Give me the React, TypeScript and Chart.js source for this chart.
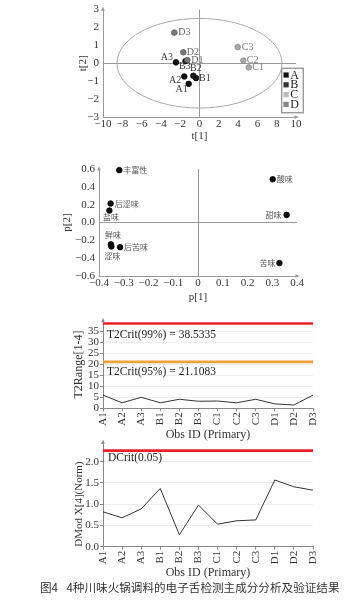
import React, { useEffect, useRef } from 'react';
import { Chart, registerables } from 'chart.js';

Chart.register(...registerables);

const SERIF = '"Liberation Serif", "DejaVu Serif", serif';
const CJK = '"Noto Sans CJK SC", sans-serif';
Chart.defaults.font.family = SERIF;

// ---------- Score plot (t[1] vs t[2]) ----------
const NAMES_A = ['A1', 'A2', 'A3'];
const T1_A = [-1.12, -1.58, -2.44];
const T2_A = [-1.15, -0.74, 0.05];
const NAMES_B = ['B1', 'B2', 'B3'];
const T1_B = [-0.36, -0.64, -1.45];
const T2_B = [-0.83, -0.7, 0.12];
const NAMES_C = ['C1', 'C2', 'C3'];
const T1_C = [5.1, 4.54, 3.96];
const T2_C = [-0.23, 0.15, 0.9];
const NAMES_D = ['D1', 'D2', 'D3'];
const T1_D = [-1.26, -1.68, -2.61];
const T2_D = [0.18, 0.61, 1.71];
const ELLIPSE_T1 = 8.55;
const ELLIPSE_T2 = 2.5;
const GROUPS = ['A', 'B', 'C', 'D'];

// ---------- Loading plot (p[1] vs p[2]) ----------
const TASTES = ['丰富性', '后涩味', '盐味', '鲜味', '涩味', '后苦味', '酸味', '甜味', '苦味'];
const P1 = [-0.318, -0.353, -0.358, -0.352, -0.35, -0.315, 0.302, 0.358, 0.329];
const P2 = [0.587, 0.213, 0.134, -0.245, -0.268, -0.277, 0.485, 0.085, -0.455];

// ---------- Validation plots ----------
const OBS_IDS = ['A1', 'A2', 'A3', 'B1', 'B2', 'B3', 'C1', 'C2', 'C3', 'D1', 'D2', 'D3'];
const T2_RANGE = [6.0, 2.5, 5.0, 2.5, 4.1, 3.2, 3.3, 2.5, 4.1, 2.0, 1.5, 6.0];
const T2CRIT_99 = 38.5335;
const T2CRIT_95 = 21.1083;
const DMOD = [0.82, 0.68, 0.89, 1.37, 0.28, 0.98, 0.53, 0.61, 0.63, 1.57, 1.41, 1.33];
const DCRIT = 2.26;

const CAPTION = '图4\u2002 4种川味火锅调料的电子舌检测主成分分析及验证结果';

// ---------- styles ----------
const GROUP_FILL: Record<string, string> = { A: '#0e0e0e', B: '#1c1c1c', C: '#a9a9a9', D: '#7b7b7b' };
const GROUP_BORDER: Record<string, string> = { A: '#000', B: '#000', C: '#8a8a8a', D: '#555' };
const GROUP_LABEL: Record<string, string> = { A: '#3a3a3a', B: '#3a3a3a', C: '#808080', D: '#666' };
const LEGEND_FILL: Record<string, string> = { A: '#111', B: '#333', C: '#bbb', D: '#858585' };

type Pos = { dx: number; dy: number; align: CanvasTextAlign };
const SCORE_POS: Record<string, Pos> = {
  D3: { dx: 4, dy: 0, align: 'left' },
  D2: { dx: 3.5, dy: 0, align: 'left' },
  D1: { dx: 4, dy: 0, align: 'left' },
  A3: { dx: -3, dy: -5, align: 'right' },
  B3: { dx: -6.5, dy: 5.5, align: 'left' },
  B2: { dx: -3.3, dy: -7.3, align: 'left' },
  B1: { dx: 3, dy: 0, align: 'left' },
  A2: { dx: -3, dy: 4.3, align: 'right' },
  A1: { dx: -1, dy: 6, align: 'right' },
  C3: { dx: 4, dy: 0, align: 'left' },
  C2: { dx: 3.5, dy: 0, align: 'left' },
  C1: { dx: 3.5, dy: 0, align: 'left' },
};
const TASTE_POS: Record<string, Pos> = {
  丰富性: { dx: 4, dy: 0, align: 'left' },
  后涩味: { dx: 4, dy: 0, align: 'left' },
  盐味: { dx: 1.5, dy: 6.5, align: 'center' },
  鲜味: { dx: 2, dy: -9, align: 'center' },
  涩味: { dx: 1, dy: 9.5, align: 'center' },
  后苦味: { dx: 4, dy: 0, align: 'left' },
  酸味: { dx: 4, dy: 0, align: 'left' },
  甜味: { dx: -5, dy: 0, align: 'right' },
  苦味: { dx: -4, dy: 0, align: 'right' },
};

const AXIS = '#999';
const TICK = '#333';

const minus = (s: string) => s.replace('-', '\u2212');
const zeroOnly = (c: any) => (c.tick && Math.abs(c.tick.value) < 1e-9 ? AXIS : 'rgba(0,0,0,0)');

// ---------- plugins ----------
const labelPlugin = {
  id: 'pointNames',
  afterDatasetsDraw(chart: any, _a: any, o: any) {
    const ctx = chart.ctx;
    ctx.save();
    chart.data.datasets.forEach((ds: any, i: number) => {
      const names = ds.pointNames;
      if (!names) return;
      const meta = chart.getDatasetMeta(i);
      meta.data.forEach((el: any, j: number) => {
        const n = names[j];
        const p: Pos = o.positions[n] || { dx: 4, dy: 0, align: 'left' };
        ctx.font = o.font;
        ctx.fillStyle = ds.labelColor || o.color;
        ctx.textAlign = p.align;
        ctx.textBaseline = 'middle';
        ctx.fillText(n, el.x + p.dx, el.y + p.dy);
      });
    });
    ctx.restore();
  },
};

const ellipsePlugin = {
  id: 'ellipse',
  beforeDatasetsDraw(chart: any, _a: any, o: any) {
    if (!o || !o.rx) return;
    const { x, y } = chart.scales;
    const cx = x.getPixelForValue(0);
    const cy = y.getPixelForValue(0);
    const rx = x.getPixelForValue(o.rx) - cx;
    const ry = cy - y.getPixelForValue(o.ry);
    const ctx = chart.ctx;
    ctx.save();
    ctx.strokeStyle = o.color;
    ctx.lineWidth = 1;
    ctx.beginPath();
    ctx.ellipse(cx, cy, rx, ry, 0, 0, Math.PI * 2);
    ctx.stroke();
    ctx.restore();
  },
};

const arrowPlugin = {
  id: 'axisArrows',
  afterDraw(chart: any, _a: any, o: any) {
    const { left, right, top, bottom } = chart.chartArea;
    const ctx = chart.ctx;
    ctx.save();
    ctx.fillStyle = o.color || AXIS;
    if (o.top) {
      ctx.beginPath();
      ctx.moveTo(left, top - 3);
      ctx.lineTo(left - 1.8, top + 1.5);
      ctx.lineTo(left + 1.8, top + 1.5);
      ctx.closePath();
      ctx.fill();
    }
    if (o.right) {
      ctx.beginPath();
      ctx.moveTo(right + 3, bottom);
      ctx.lineTo(right - 1.5, bottom - 1.8);
      ctx.lineTo(right - 1.5, bottom + 1.8);
      ctx.closePath();
      ctx.fill();
    }
    ctx.restore();
  },
};

const boxLegendPlugin = {
  id: 'boxLegend',
  afterDraw(chart: any, _a: any, o: any) {
    if (!o || !o.items) return;
    const { right, bottom } = chart.chartArea;
    const x0 = right + o.dx;
    const y0 = bottom + o.dy;
    const ctx = chart.ctx;
    ctx.save();
    ctx.strokeStyle = '#999';
    ctx.lineWidth = 1.4;
    ctx.strokeRect(x0, y0, o.w, o.h);
    o.items.forEach((it: string, i: number) => {
      const cy = y0 + o.first + i * o.step;
      ctx.fillStyle = LEGEND_FILL[it];
      ctx.fillRect(x0 + 1.8, cy - 2.6, 5.2, 5.2);
      ctx.fillStyle = '#222';
      ctx.font = '12px ' + SERIF;
      ctx.textAlign = 'left';
      ctx.textBaseline = 'middle';
      ctx.fillText(it, x0 + 8.6, cy + 0.5);
    });
    ctx.restore();
  },
};

const critTextPlugin = {
  id: 'critText',
  afterDatasetsDraw(chart: any, _a: any, o: any) {
    if (!o || !o.items) return;
    const y = chart.scales.y;
    const ctx = chart.ctx;
    ctx.save();
    ctx.fillStyle = '#222';
    ctx.font = o.font;
    ctx.textAlign = 'left';
    ctx.textBaseline = 'middle';
    o.items.forEach((it: any) => {
      ctx.fillText(it.text, chart.chartArea.left + it.dx, y.getPixelForValue(it.value) + it.dy);
    });
    ctx.restore();
  },
};

const pts = (xs: number[], ys: number[]) => xs.map((x, i) => ({ x, y: ys[i] }));

const groupDataset = (g: string, xs: number[], ys: number[], names: string[], order: number) => ({
  label: g,
  data: pts(xs, ys),
  pointNames: names,
  labelColor: GROUP_LABEL[g],
  backgroundColor: GROUP_FILL[g],
  borderColor: GROUP_BORDER[g],
  pointRadius: 2.8,
  borderWidth: 0.8,
  clip: false,
  order,
});

const titleFont = (size: number) => ({ size, family: SERIF });
const flatTicks = { autoSkip: false, maxRotation: 0, minRotation: 0 };

function scoreConfig(): any {
  return {
    type: 'scatter',
    data: {
      datasets: [
        groupDataset('D', T1_D, T2_D, NAMES_D, 0),
        groupDataset('C', T1_C, T2_C, NAMES_C, 1),
        groupDataset('B', T1_B, T2_B, NAMES_B, 2),
        groupDataset('A', T1_A, T2_A, NAMES_A, 3),
      ],
    },
    options: {
      animation: false,
      responsive: false,
      events: [],
      layout: { padding: { left: 0, right: 58, top: 6, bottom: 0 } },
      scales: {
        x: {
          type: 'linear', min: -10, max: 10,
          ticks: { ...flatTicks, stepSize: 2, color: TICK, font: { size: 11, lineHeight: 1 }, padding: 2,
            callback: (v: number) => minus(String(v)) },
          grid: { color: zeroOnly, drawTicks: false },
          border: { color: AXIS },
          title: { display: true, text: 't[1]', color: TICK, font: titleFont(11), padding: { top: 0, bottom: 2.4 } },
          afterFit: (s: any) => { s.height = 28; },
        },
        y: {
          type: 'linear', min: -3, max: 3,
          ticks: { autoSkip: false, stepSize: 1, color: TICK, font: { size: 11, lineHeight: 1 }, padding: 4,
            callback: (v: number) => minus(String(v)) },
          grid: { color: zeroOnly, drawTicks: false },
          border: { color: AXIS },
          title: { display: true, text: 't[2]', color: TICK, font: titleFont(11), padding: { top: 76.4, bottom: 0 } },
          afterFit: (s: any) => { s.width = 103; },
        },
      },
      plugins: {
        legend: { display: false },
        tooltip: { enabled: false },
        pointNames: { positions: SCORE_POS, font: '10px ' + SERIF, color: '#444' },
        ellipse: { rx: ELLIPSE_T1, ry: ELLIPSE_T2, color: '#a8a8a8' },
        axisArrows: { top: true, right: true },
        boxLegend: { items: GROUPS, dx: -14.3, dy: -48.7, w: 21.6, h: 44.4, first: 6.7, step: 9.8 },
      },
    },
    plugins: [ellipsePlugin, labelPlugin, arrowPlugin, boxLegendPlugin],
  };
}

function loadingConfig(): any {
  return {
    type: 'scatter',
    data: {
      datasets: [
        {
          label: 'p',
          data: pts(P1, P2),
          pointNames: TASTES,
          backgroundColor: '#0e0e0e',
          borderColor: '#000',
          pointRadius: 2.8,
          borderWidth: 0.8,
          clip: false,
        },
      ],
    },
    options: {
      animation: false,
      responsive: false,
      events: [],
      layout: { padding: { left: 0, right: 57, top: 24, bottom: 0 } },
      scales: {
        x: {
          type: 'linear', min: -0.4, max: 0.4,
          ticks: { ...flatTicks, stepSize: 0.1, color: TICK, font: { size: 11, lineHeight: 1 }, padding: 1.5,
            callback: (v: number) => (Math.abs(v) < 1e-9 ? '0' : minus(v.toFixed(1))) },
          grid: { color: zeroOnly, drawTicks: false },
          border: { color: AXIS },
          title: { display: true, text: 'p[1]', color: TICK, font: titleFont(11), padding: { top: 0, bottom: 1.7 } },
          afterFit: (s: any) => { s.height = 29; },
        },
        y: {
          type: 'linear', min: -0.6, max: 0.6,
          ticks: { autoSkip: false, stepSize: 0.2, color: TICK, font: { size: 11, lineHeight: 1 }, padding: 4,
            callback: (v: number) => (Math.abs(v) < 1e-9 ? '0.0' : minus(v.toFixed(1))) },
          grid: { color: zeroOnly, drawTicks: false },
          border: { color: AXIS },
          title: { display: true, text: 'p[2]', color: TICK, font: titleFont(11), padding: { top: 60.4, bottom: 0 } },
          afterFit: (s: any) => { s.width = 99; },
        },
      },
      plugins: {
        legend: { display: false },
        tooltip: { enabled: false },
        pointNames: { positions: TASTE_POS, font: '8px ' + CJK, color: '#555' },
        axisArrows: { top: true, right: true },
      },
    },
    plugins: [labelPlugin, arrowPlugin],
  };
}

const obsX = (xh: number, pb: number) => ({
  type: 'category',
  offset: false,
  ticks: { autoSkip: false, minRotation: 90, maxRotation: 90, color: TICK, font: { size: 11 }, padding: 1 },
  grid: { drawOnChartArea: false, drawTicks: true, tickLength: 3, tickColor: '#888' },
  border: { color: '#888' },
  title: { display: true, text: 'Obs ID (Primary)', color: TICK, font: titleFont(12), padding: { top: 0, bottom: pb } },
  afterFit: (s: any) => { s.height = xh; },
});

function t2Config(): any {
  return {
    type: 'line',
    data: {
      labels: OBS_IDS,
      datasets: [
        { label: 'T2Range', data: T2_RANGE, borderColor: '#333', borderWidth: 1, pointRadius: 0, tension: 0 },
        { label: 'T2Crit99', data: OBS_IDS.map(() => T2CRIT_99), borderColor: '#e8202a', borderWidth: 2.6, pointRadius: 0 },
        { label: 'T2Crit95', data: OBS_IDS.map(() => T2CRIT_95), borderColor: '#eea23a', borderWidth: 2.6, pointRadius: 0 },
      ],
    },
    options: {
      animation: false,
      responsive: false,
      events: [],
      layout: { padding: { left: 0, right: 41, top: 15.7, bottom: 0 } },
      scales: {
        x: obsX(36.7, 2.8),
        y: {
          min: 0, max: 39.8,
          ticks: { autoSkip: false, stepSize: 5, includeBounds: false, color: TICK, font: { size: 11, lineHeight: 1 }, padding: 1 },
          grid: { color: '#ececec', tickLength: 3, tickColor: '#888' },
          border: { color: '#888' },
          title: { display: true, text: 'T2Range[1-4]', color: TICK, font: titleFont(12), padding: { top: 71.8, bottom: 0 } },
          afterFit: (s: any) => { s.width = 103; },
        },
      },
      plugins: {
        legend: { display: false },
        tooltip: { enabled: false },
        axisArrows: { top: true, right: false, color: '#888' },
        critText: {
          font: '11.5px ' + SERIF,
          items: [
            { value: T2CRIT_99, text: 'T2Crit(99%) = ' + T2CRIT_99, dx: 4, dy: 11.5 },
            { value: T2CRIT_95, text: 'T2Crit(95%) = ' + T2CRIT_95, dx: 4, dy: 9.8 },
          ],
        },
      },
    },
    plugins: [arrowPlugin, critTextPlugin],
  };
}

function dmodConfig(): any {
  return {
    type: 'line',
    data: {
      labels: OBS_IDS,
      datasets: [
        { label: 'DMod', data: DMOD, borderColor: '#333', borderWidth: 1, pointRadius: 0, tension: 0 },
        { label: 'DCrit', data: OBS_IDS.map(() => DCRIT), borderColor: '#e8202a', borderWidth: 2.6, pointRadius: 0 },
      ],
    },
    options: {
      animation: false,
      responsive: false,
      events: [],
      layout: { padding: { left: 0, right: 41, top: 10.6, bottom: 0 } },
      scales: {
        x: obsX(34.3, 0.5),
        y: {
          min: 0, max: 2.45,
          ticks: { autoSkip: false, stepSize: 0.5, includeBounds: false, color: TICK, font: { size: 11, lineHeight: 1 }, padding: 1,
            callback: (v: number) => v.toFixed(1) },
          grid: { color: '#ececec', tickLength: 3, tickColor: '#888' },
          border: { color: '#888' },
          title: { display: true, align: 'start', text: 'DMod X[4](Norm)', color: TICK, font: titleFont(11), padding: { top: 72.4, bottom: 0 } },
          afterFit: (s: any) => { s.width = 103; },
        },
      },
      plugins: {
        legend: { display: false },
        tooltip: { enabled: false },
        axisArrows: { top: true, right: false, color: '#888' },
        critText: {
          font: '11.5px ' + SERIF,
          items: [{ value: DCRIT, text: 'DCrit(0.05)', dx: 5, dy: 7.7 }],
        },
      },
    },
    plugins: [arrowPlugin, critTextPlugin],
  };
}

function ChartBox({ top, height, make }: { top: number; height: number; make: () => any }) {
  const ref = useRef<HTMLCanvasElement>(null);
  useEffect(() => {
    const chart = new Chart(ref.current as HTMLCanvasElement, make());
    return () => chart.destroy();
  }, []);
  return (
    <canvas
      ref={ref}
      width={354}
      height={height}
      style={{ position: 'absolute', left: 0, top, width: 354, height }}
    />
  );
}

export default function App() {
  return (
    <div style={{ position: 'absolute', left: 0, top: 0, width: 354, height: 603, background: '#fff', overflow: 'hidden' }}>
      <ChartBox top={0} height={145} make={scoreConfig} />
      <ChartBox top={145} height={160} make={loadingConfig} />
      <ChartBox top={305} height={140} make={t2Config} />
      <ChartBox top={432} height={149} make={dmodConfig} />
      <div
        style={{
          position: 'absolute',
          left: 40,
          top: 580,
          fontFamily: CJK,
          fontSize: 11.6,
          lineHeight: '14px',
          color: '#333',
          whiteSpace: 'nowrap',
        }}
      >
        {CAPTION}
      </div>
    </div>
  );
}
